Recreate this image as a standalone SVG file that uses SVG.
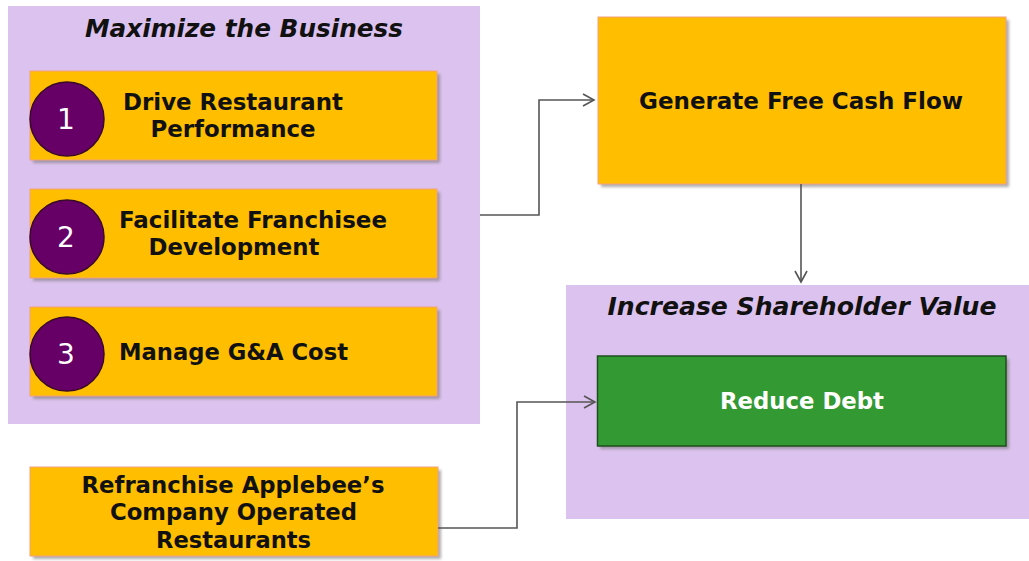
<svg xmlns="http://www.w3.org/2000/svg" width="1029" height="561" viewBox="0 0 1029 561">
<defs>
<filter id="sh" x="-5%" y="-10%" width="115%" height="130%">
<feGaussianBlur stdDeviation="1.5"/>
</filter>
<marker id="arr" markerWidth="14" markerHeight="14" refX="12" refY="7" orient="auto" markerUnits="userSpaceOnUse">
<path d="M1,1 L12,7 L1,13" fill="none" stroke="#555" stroke-width="1.6"/>
</marker>
</defs>
<style>
.panel{fill:#DCC2EE}
.box{fill:#FFBF00;stroke:#F4A080;stroke-width:1}
.shadow{fill:#777;opacity:0.6;filter:url(#sh)}
.circ{fill:#660066;stroke:#3a0a2a;stroke-width:1.5}
.num{font-family:"DejaVu Sans",Verdana,sans-serif;font-size:28px;fill:#fff;text-anchor:middle}
.t{font-family:"DejaVu Sans",Verdana,sans-serif;font-weight:bold;font-size:23px;fill:#111;text-anchor:middle}
.title{font-family:"DejaVu Sans",Verdana,sans-serif;font-weight:bold;font-style:italic;font-size:24px;fill:#111;text-anchor:middle}
.conn{fill:none;stroke:#555;stroke-width:1.6}
</style>
<rect width="1029" height="561" fill="#fff"/>

<g id="panel-maximize">
<rect class="panel" x="8" y="6" width="472" height="418"/>
<text class="title" x="244" y="37" textLength="318" lengthAdjust="spacingAndGlyphs">Maximize the Business</text>
</g>

<g id="panel-increase">
<rect class="panel" x="566" y="285" width="463" height="234"/>
<text class="title" x="802" y="315" textLength="389" lengthAdjust="spacingAndGlyphs">Increase Shareholder Value</text>
</g>

<g id="node-drive">
<rect class="shadow" x="33" y="74" width="407" height="89"/>
<rect class="box" x="30" y="71" width="407" height="89"/>
<circle class="circ" cx="67" cy="119" r="37"/>
<text class="num" x="66" y="129">1</text>
<text class="t" x="233" y="110" textLength="220" lengthAdjust="spacingAndGlyphs">Drive Restaurant</text>
<text class="t" x="233" y="137" textLength="165" lengthAdjust="spacingAndGlyphs">Performance</text>
</g>

<g id="node-facilitate">
<rect class="shadow" x="33" y="192" width="407" height="89"/>
<rect class="box" x="30" y="189" width="407" height="89"/>
<circle class="circ" cx="67" cy="237" r="37"/>
<text class="num" x="66" y="247">2</text>
<text class="t" x="253" y="228" textLength="268" lengthAdjust="spacingAndGlyphs">Facilitate Franchisee</text>
<text class="t" x="234" y="255" textLength="171" lengthAdjust="spacingAndGlyphs">Development</text>
</g>

<g id="node-manage">
<rect class="shadow" x="33" y="310" width="407" height="89"/>
<rect class="box" x="30" y="307" width="407" height="89"/>
<circle class="circ" cx="67" cy="354" r="37"/>
<text class="num" x="66" y="364">3</text>
<text class="t" x="233.5" y="360" textLength="229" lengthAdjust="spacingAndGlyphs">Manage G&amp;A Cost</text>
</g>

<g id="node-refranchise">
<rect class="shadow" x="33" y="470" width="408" height="89"/>
<rect class="box" x="30" y="467" width="408" height="89"/>
<text class="t" x="233" y="493" textLength="303" lengthAdjust="spacingAndGlyphs">Refranchise Applebee’s</text>
<text class="t" x="233.5" y="520" textLength="247" lengthAdjust="spacingAndGlyphs">Company Operated</text>
<text class="t" x="233.5" y="548" textLength="155" lengthAdjust="spacingAndGlyphs">Restaurants</text>
</g>

<g id="node-generate">
<rect class="shadow" x="601" y="20" width="408" height="167"/>
<rect class="box" x="598" y="17" width="408" height="167"/>
<text class="t" x="801" y="109" textLength="324" lengthAdjust="spacingAndGlyphs">Generate Free Cash Flow</text>
</g>

<g id="node-reduce">
<rect class="shadow" x="600" y="359" width="409" height="90"/>
<rect x="597.5" y="356" width="408.5" height="90" fill="#339933" stroke="#1f4f1f" stroke-width="1.5"/>
<text class="t" x="802" y="409" style="fill:#fff" textLength="164" lengthAdjust="spacingAndGlyphs">Reduce Debt</text>
</g>

<g id="connectors">
<path class="conn" d="M480,215 H539 V100 H594" marker-end="url(#arr)"/>
<path class="conn" d="M801,184 V282" marker-end="url(#arr)"/>
<path class="conn" d="M438,528 H517 V402 H595" marker-end="url(#arr)"/>
</g>
</svg>
